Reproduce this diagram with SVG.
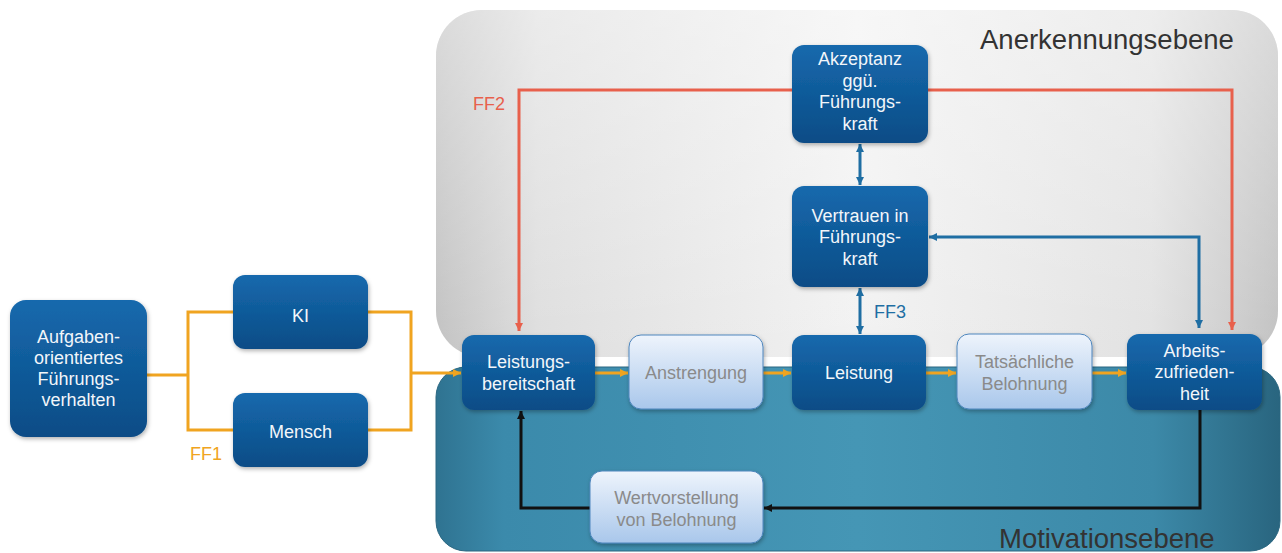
<svg xmlns="http://www.w3.org/2000/svg" width="1282" height="553" viewBox="0 0 1282 553">
<defs>
<linearGradient id="gDark" x1="0" y1="0" x2="0" y2="1">
<stop offset="0" stop-color="#1669ad"/><stop offset="1" stop-color="#0a4c86"/>
</linearGradient>
<linearGradient id="gLight" x1="0" y1="0" x2="0" y2="1">
<stop offset="0" stop-color="#eef4fc"/><stop offset="1" stop-color="#a9c7eb"/>
</linearGradient>
<linearGradient id="gGray" x1="0" y1="0" x2="1" y2="0">
<stop offset="0" stop-color="#c2c2c2"/><stop offset="0.12" stop-color="#dedede"/><stop offset="0.5" stop-color="#f2f2f2"/><stop offset="0.85" stop-color="#e2e2e2"/><stop offset="1" stop-color="#c2c2c2"/>
</linearGradient>
<linearGradient id="gGrayV" x1="0" y1="0" x2="0" y2="1">
<stop offset="0" stop-color="#ffffff" stop-opacity="0.4"/><stop offset="1" stop-color="#ffffff" stop-opacity="0"/>
</linearGradient>
<linearGradient id="gTeal" x1="0" y1="0" x2="1" y2="0">
<stop offset="0" stop-color="#2f7391"/><stop offset="0.08" stop-color="#3b8aab"/><stop offset="0.5" stop-color="#4596b5"/><stop offset="0.85" stop-color="#3c89a8"/><stop offset="1" stop-color="#29657f"/>
</linearGradient>
<filter id="sh" x="-10%" y="-10%" width="125%" height="130%">
<feDropShadow dx="1" dy="2" stdDeviation="2" flood-color="#000" flood-opacity="0.3"/>
</filter>
<marker id="aO" viewBox="0 0 10 10" refX="10" refY="5" markerWidth="9" markerHeight="8" markerUnits="userSpaceOnUse" orient="auto"><path d="M0,0 L10,5 L0,10 Z" fill="#f0a420"/></marker>
<marker id="aR" viewBox="0 0 10 10" refX="10" refY="5" markerWidth="9" markerHeight="8" markerUnits="userSpaceOnUse" orient="auto"><path d="M0,0 L10,5 L0,10 Z" fill="#e8604c"/></marker>
<marker id="aB" viewBox="0 0 10 10" refX="10" refY="5" markerWidth="9" markerHeight="8" markerUnits="userSpaceOnUse" orient="auto-start-reverse"><path d="M0,0 L10,5 L0,10 Z" fill="#1f6ea3"/></marker>
<marker id="aK" viewBox="0 0 10 10" refX="10" refY="5" markerWidth="8" markerHeight="8" markerUnits="userSpaceOnUse" orient="auto"><path d="M0,0 L10,5 L0,10 Z" fill="#111"/></marker>
</defs>
<style>
.dark{fill:url(#gDark);filter:url(#sh)}
.light{fill:url(#gLight);stroke:#4f86bd;stroke-width:1;filter:url(#sh)}
.t{font-family:"Liberation Sans",Arial,sans-serif;font-size:18px;text-anchor:middle}
.tw{fill:#f2f6fa}
.tg{fill:#8a8a8a}
.title{font-family:"Liberation Sans",Arial,sans-serif;font-size:27.5px;fill:#333}
.ff{font-family:"Liberation Sans",Arial,sans-serif;font-size:18px}
.co{fill:none;stroke:#f0a420;stroke-width:3}
.cr{fill:none;stroke:#e8604c;stroke-width:3}
.cb{fill:none;stroke:#1f6ea3;stroke-width:3}
.ck{fill:none;stroke:#111;stroke-width:3}
</style>

<g id="panel-anerkennung">
<rect x="436" y="10" width="842" height="347" rx="46" fill="url(#gGray)"/>
<rect x="436" y="10" width="842" height="347" rx="46" fill="url(#gGrayV)"/>
<text class="title" x="980" y="49">Anerkennungsebene</text>
</g>
<g id="panel-motivation">
<rect x="436" y="367" width="844" height="184" rx="30" fill="url(#gTeal)" stroke="#2a6781" stroke-width="1"/>
<text class="title" x="999" y="548">Motivationsebene</text>
</g>

<g id="connectors">
<path class="co" d="M147,375 H188"/>
<path class="co" d="M233,312 H188 V430 H233"/>
<path class="co" d="M368,312 H411 V430 H368"/>
<path class="co" d="M411,373 H461" marker-end="url(#aO)"/>
<path class="co" d="M595,373 H628" marker-end="url(#aO)"/>
<path class="co" d="M763,373 H791" marker-end="url(#aO)"/>
<path class="co" d="M926,373 H956" marker-end="url(#aO)"/>
<path class="co" d="M1092,373 H1126" marker-end="url(#aO)"/>
<path class="cr" d="M792,90 H519 V331" marker-end="url(#aR)"/>
<path class="cr" d="M928,90 H1232 V330" marker-end="url(#aR)"/>
<path class="cb" d="M860,144 V185" marker-start="url(#aB)" marker-end="url(#aB)"/>
<path class="cb" d="M860,288 V334" marker-start="url(#aB)" marker-end="url(#aB)"/>
<path class="cb" d="M929,237 H1199 V328" marker-start="url(#aB)" marker-end="url(#aB)"/>
<path class="ck" d="M1200,410 V508 H764" marker-end="url(#aK)"/>
<path class="ck" d="M590,508 H521 V411" marker-end="url(#aK)"/>
<text class="ff" x="190" y="460" fill="#f0a420">FF1</text>
<text class="ff" x="473" y="110" fill="#e8604c">FF2</text>
<text class="ff" x="874" y="318" fill="#1f6ea3">FF3</text>
</g>

<g id="n-aufgaben">
<rect class="dark" x="10" y="300" width="137" height="137" rx="16"/>
<text class="t tw" x="78.5" y="343">Aufgaben-</text>
<text class="t tw" x="78.5" y="364">orientiertes</text>
<text class="t tw" x="78.5" y="385">Führungs-</text>
<text class="t tw" x="78.5" y="406">verhalten</text>
</g>
<g id="n-ki">
<rect class="dark" x="233" y="275" width="135" height="74" rx="12"/>
<text class="t tw" x="300.5" y="322">KI</text>
</g>
<g id="n-mensch">
<rect class="dark" x="233" y="393" width="135" height="74" rx="12"/>
<text class="t tw" x="300.5" y="438">Mensch</text>
</g>
<g id="n-leistungsbereitschaft">
<rect class="dark" x="462" y="335" width="133" height="75" rx="12"/>
<text class="t tw" x="528.5" y="368">Leistungs-</text>
<text class="t tw" x="528.5" y="390">bereitschaft</text>
</g>
<g id="n-anstrengung">
<rect class="light" x="629" y="335" width="134" height="74" rx="12"/>
<text class="t tg" x="696" y="379">Anstrengung</text>
</g>
<g id="n-leistung">
<rect class="dark" x="792" y="335" width="134" height="75" rx="12"/>
<text class="t tw" x="859" y="379">Leistung</text>
</g>
<g id="n-belohnung">
<rect class="light" x="957" y="334" width="135" height="75" rx="12"/>
<text class="t tg" x="1024.5" y="368">Tatsächliche</text>
<text class="t tg" x="1024.5" y="390">Belohnung</text>
</g>
<g id="n-arbeitszufriedenheit">
<rect class="dark" x="1127" y="334" width="135" height="76" rx="12"/>
<text class="t tw" x="1194.5" y="357">Arbeits-</text>
<text class="t tw" x="1194.5" y="378">zufrieden-</text>
<text class="t tw" x="1194.5" y="400">heit</text>
</g>
<g id="n-akzeptanz">
<rect class="dark" x="792" y="45" width="136" height="98" rx="12"/>
<text class="t tw" x="860" y="65">Akzeptanz</text>
<text class="t tw" x="860" y="87">ggü.</text>
<text class="t tw" x="860" y="108">Führungs-</text>
<text class="t tw" x="860" y="130">kraft</text>
</g>
<g id="n-vertrauen">
<rect class="dark" x="792" y="186" width="136" height="101" rx="12"/>
<text class="t tw" x="860" y="222">Vertrauen in</text>
<text class="t tw" x="860" y="243">Führungs-</text>
<text class="t tw" x="860" y="265">kraft</text>
</g>
<g id="n-wertvorstellung">
<rect class="light" x="590" y="471" width="173" height="72" rx="12"/>
<text class="t tg" x="676.5" y="504">Wertvorstellung</text>
<text class="t tg" x="676.5" y="526">von Belohnung</text>
</g>
</svg>
